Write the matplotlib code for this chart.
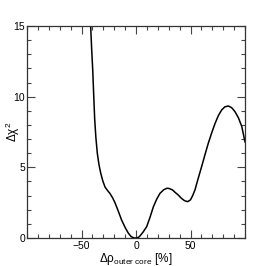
import matplotlib
matplotlib.use("Agg")
import matplotlib.pyplot as plt
from matplotlib.ticker import MultipleLocator, FixedLocator

# curve
d_rho = [-42.0, -41.6, -40.7, -39.7, -38.8, -37.9, -36.8, -35.5, -34.0, -32.4,
         -30.5, -28.4, -26.0, -23.9, -21.5, -19.3, -16.5, -13.2, -10.0, -7.1,
         -4.5, -2.0, -0.5, 1.0, 2.5, 3.7, 6.5, 9.8, 12.8, 15.9,
         19.0, 22.0, 25.5, 28.5, 30.6, 33.5, 36.0, 38.8, 41.5, 44.5,
         47.4, 50.0, 52.0, 54.1, 57.0, 60.2, 63.3, 66.3, 69.5, 72.5,
         75.5, 78.6, 81.5, 84.7, 87.8, 90.8, 94.0, 97.0, 100.0]
d_chi2 = [15.6, 15.0, 13.4, 11.9, 10.1, 8.4, 7.1, 6.0, 5.2, 4.6,
          4.05, 3.6, 3.35, 3.15, 2.85, 2.5, 1.95, 1.27, 0.75, 0.35,
          0.1, 0.01, 0.0, 0.01, 0.06, 0.15, 0.42, 0.8, 1.45, 2.2,
          2.75, 3.16, 3.42, 3.52, 3.5, 3.4, 3.22, 3.04, 2.82, 2.64,
          2.57, 2.7, 3.0, 3.4, 4.2, 5.05, 5.9, 6.7, 7.45, 8.1,
          8.65, 9.06, 9.28, 9.34, 9.22, 8.94, 8.5, 7.9, 6.8]

x_major = [-50, 0, 50]
y_major = [0, 5, 10, 15]

plt.rcParams['font.family'] = ['Liberation Sans', 'DejaVu Sans']
plt.rcParams['mathtext.fontset'] = 'custom'
plt.rcParams['mathtext.rm'] = 'Liberation Sans'
plt.rcParams['mathtext.it'] = 'Liberation Sans:italic'

fig = plt.figure(figsize=(2.73, 2.66), dpi=100)
ax = fig.add_axes([27 / 273, 28 / 266, 218 / 273, 212 / 266])

ax.plot(d_rho, d_chi2, color='black', lw=1.1, solid_joinstyle='round')
ax.set_xlim(-100, 100)
ax.set_ylim(0, 15)

ax.xaxis.set_major_locator(FixedLocator(x_major))
ax.xaxis.set_minor_locator(MultipleLocator(10))
ax.yaxis.set_major_locator(FixedLocator(y_major))
ax.yaxis.set_minor_locator(MultipleLocator(1))

ax.tick_params(which='both', direction='in', top=True, right=True,
               color='#444444', width=0.8, labelsize=7.5)
ax.tick_params(which='major', length=5.5)
ax.tick_params(which='minor', length=2.8)
ax.tick_params(axis='y', pad=1.5)
ax.tick_params(axis='x', pad=2.0)
ax.tick_params(axis='x', which='both', labeltop=False)
ax.tick_params(axis='y', which='both', labelright=False)
for s in ax.spines.values():
    s.set_color('#333333')
    s.set_linewidth(0.9)

fig.text(13 / 273, 0.505, r'$\mathrm{\Delta\chi}^{2}$', rotation=90,
         ha='center', va='center', fontsize=8.5)
fig.text(136 / 273, 0.027, r'$\mathrm{\Delta\rho}_{\mathrm{outer\ core}}$ [%]',
         ha='center', va='center', fontsize=8.5)

fig.savefig('out.png', dpi=100)
